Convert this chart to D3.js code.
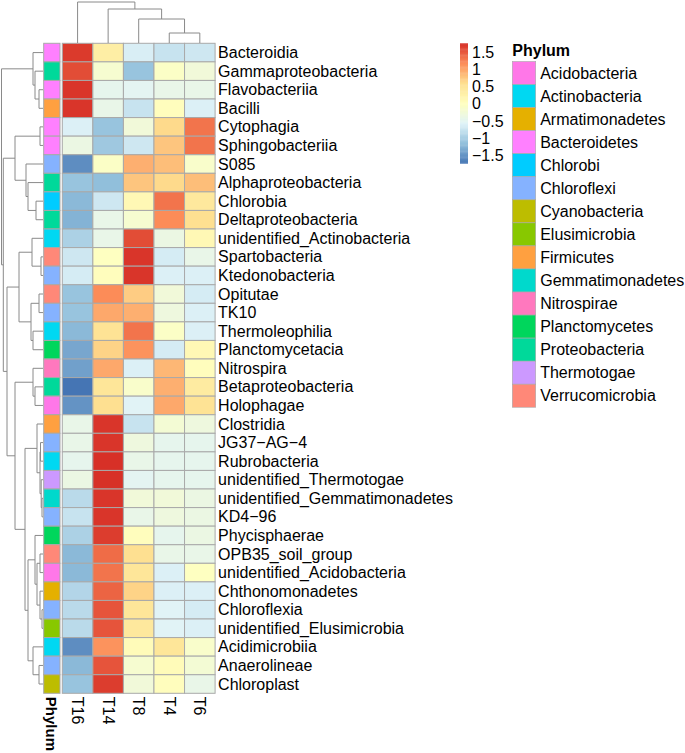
<!DOCTYPE html>
<html>
<head>
<meta charset="utf-8">
<script src="https://cdn.jsdelivr.net/npm/d3@7"></script>
<style>
  html, body { margin: 0; padding: 0; background: #fff; }
  svg { display: block; font-family: "Liberation Sans", Arial, Helvetica, sans-serif; }
</style>
</head>
<body>
<svg id="chart" width="685" height="753"></svg>
<script>
// ---------------- data ----------------
const columns = ["T16", "T14", "T8", "T4", "T6"];

const rows = [
  "Bacteroidia", "Gammaproteobacteria", "Flavobacteriia", "Bacilli", "Cytophagia",
  "Sphingobacteriia", "S085", "Alphaproteobacteria", "Chlorobia", "Deltaproteobacteria",
  "unidentified_Actinobacteria", "Spartobacteria", "Ktedonobacteria", "Opitutae", "TK10",
  "Thermoleophilia", "Planctomycetacia", "Nitrospira", "Betaproteobacteria", "Holophagae",
  "Clostridia", "JG37\u2212AG\u22124", "Rubrobacteria", "unidentified_Thermotogae", "unidentified_Gemmatimonadetes",
  "KD4\u221296", "Phycisphaerae", "OPB35_soil_group", "unidentified_Acidobacteria", "Chthonomonadetes",
  "Chloroflexia", "unidentified_Elusimicrobia", "Acidimicrobiia", "Anaerolineae", "Chloroplast"
];

const rowPhylum = [
  "Bacteroidetes", "Proteobacteria", "Bacteroidetes", "Firmicutes", "Bacteroidetes",
  "Bacteroidetes", "Chloroflexi", "Proteobacteria", "Chlorobi", "Proteobacteria",
  "Actinobacteria", "Verrucomicrobia", "Chloroflexi", "Verrucomicrobia", "Chloroflexi",
  "Actinobacteria", "Planctomycetes", "Nitrospirae", "Proteobacteria", "Acidobacteria",
  "Firmicutes", "Chloroflexi", "Actinobacteria", "Thermotogae", "Gemmatimonadetes",
  "Chloroflexi", "Planctomycetes", "Verrucomicrobia", "Acidobacteria", "Armatimonadetes",
  "Chloroflexi", "Elusimicrobia", "Actinobacteria", "Chloroflexi", "Cyanobacteria"
];

const phyla = [
  "Acidobacteria", "Actinobacteria", "Armatimonadetes", "Bacteroidetes", "Chlorobi",
  "Chloroflexi", "Cyanobacteria", "Elusimicrobia", "Firmicutes", "Gemmatimonadetes",
  "Nitrospirae", "Planctomycetes", "Proteobacteria", "Thermotogae", "Verrucomicrobia"
];
const phylumColors = [
  "#FF77E8", "#00D8F2", "#E5B000", "#FF80FF", "#00CCFF",
  "#85B2FF", "#BDBD00", "#88C800", "#FFA040", "#00D9CC",
  "#FF78BE", "#00D65C", "#00D99A", "#CC99FF", "#FF8878"
];

// row-scaled values (z-scores), one array per sample column
const T16 = [1.72, 1.6, 1.75, 1.75, -0.6, -0.35, -1.55, -1.1, -1.2, -1.25,
  -0.95, -0.7, -0.65, -1.1, -1.1, -1.2, -1.35, -1.4, -1.74, -1.5,
  -0.4, -0.4, -0.45, -0.35, -0.85, -0.75, -0.95, -1.2, -1.2, -0.9,
  -0.85, -0.85, -1.55, -1.2, -1.1];
const T14 = [0.35, -0.15, -0.45, -0.4, -1.1, -1.05, -0.05, -1.15, -0.7, -0.4,
  -0.4, 0.0, 0.05, 1.2, 1.0, 0.55, 0.7, 1.0, 0.5, 0.6,
  1.75, 1.75, 1.78, 1.78, 1.75, 1.75, 1.7, 1.4, 1.35, 1.45,
  1.55, 1.55, 1.15, 1.55, 1.7];
const T8 = [-0.62, -1.1, -0.5, -0.75, -0.25, -0.7, 0.95, 0.8, 0.15, -0.15,
  1.6, 1.75, 1.75, 0.75, 0.95, 1.35, 1.15, -0.6, -0.1, -0.55,
  -0.75, -0.3, -0.4, -0.5, -0.25, -0.4, 0.05, 0.6, 0.5, 0.7,
  0.5, 0.45, 0.1, -0.15, -0.25];
const T4 = [-0.75, -0.05, -0.4, 0.05, 0.65, 0.8, 0.85, 0.65, 1.35, 1.2,
  -0.35, -0.65, -0.6, -0.25, -0.3, -0.05, -0.65, 0.9, 0.95, 1.0,
  -0.2, -0.45, -0.45, -0.45, -0.25, -0.3, -0.45, -0.4, -0.6, -0.6,
  -0.55, -0.55, 0.5, 0.1, 0.05];
const T6 = [-0.7, -0.25, -0.4, -0.6, 1.35, 1.35, -0.1, 0.85, 0.45, 0.6,
  0.15, -0.4, -0.6, -0.65, -0.6, -0.6, 0.15, 0.05, 0.4, 0.55,
  -0.3, -0.45, -0.45, -0.45, -0.35, -0.35, -0.35, -0.4, 0.0, -0.6,
  -0.65, -0.6, -0.1, -0.2, -0.4];
const seriesByColumn = [T16, T14, T8, T4, T6];

// hclust-style merges: negative = leaf -(index+1), positive = earlier merge (1-based)
const rowMergeA = [-3, -2, -1, -5, -9, -8, -7, 4, -12, -11, -14, -16, 11, 10, -19, -18, -22, -25, -24, 17, -21, -28, -31, -30, 22, -27, -34, -33, 26, 21, 16, 14, 8, 3];
const rowMergeB = [-4, 1, 2, -6, -10, 5, 6, 7, -13, 9, -15, -17, 12, 13, -20, 15, -23, -26, 18, 19, 20, -29, -32, 23, 24, 25, -35, 27, 28, 29, 30, 31, 32, 33];
const rowMergeHeight = [4, 8, 10, 3, 7, 15, 17, 28, 2, 11, 4, 10, 12, 24, 8, 10, 2.5, 1, 1.8, 3, 6, 3, 1, 3, 6, 8, 4, 10, 15, 18, 28, 36, 39.7, 41.5];

const colMergeA = [-4, -3, -2, -1];
const colMergeB = [-5, 1, 2, 3];
const colMergeHeight = [10, 24, 34, 41];

const legendTicks = [-1.5, -1, -0.5, 0, 0.5, 1, 1.5];
const paletteStops = ["#4575B4", "#91BFDB", "#E0F3F8", "#FFFFBF", "#FEE090", "#FC8D59", "#D73027"];

// ---------------- layout ----------------
const svg = d3.select("#chart");
const heatLeft = 62.3, heatRight = 215.1, heatTop = 43.3, heatBottom = 693.3;
const annLeft = 43.7, annRight = 60;
const treeLeft = 1.5, treeRight = 43;
const colTreeTop = 2, colTreeBottom = 43;
const FONT = 16;

const x = d3.scaleBand().domain(columns).range([heatLeft, heatRight]);
const y = d3.scaleBand().domain(rows).range([heatTop, heatBottom]);

const allVals = seriesByColumn.flat();
const [vmin, vmax] = d3.extent(allVals);
const color = d3.scaleLinear()
  .domain(paletteStops.map((_, i) => vmin + (vmax - vmin) * i / (paletteStops.length - 1)))
  .range(paletteStops)
  .interpolate(d3.interpolateRgb);

const phylumColor = d3.scaleOrdinal().domain(phyla).range(phylumColors);

const cellStroke = "#a9a9a9";
const treeStroke = "#8a8a8a";

// ---------------- heatmap cells ----------------
const cells = [];
rows.forEach((r, i) => columns.forEach((c, j) => cells.push({ r, c, v: seriesByColumn[j][i] })));
svg.append("g").selectAll("rect").data(cells).join("rect")
  .attr("x", d => x(d.c))
  .attr("y", d => y(d.r))
  .attr("width", x.bandwidth())
  .attr("height", y.bandwidth())
  .attr("fill", d => color(d.v))
  .attr("stroke", cellStroke)
  .attr("stroke-width", 1);

// annotation column
svg.append("g").selectAll("rect").data(rows).join("rect")
  .attr("x", annLeft)
  .attr("y", d => y(d))
  .attr("width", annRight - annLeft)
  .attr("height", y.bandwidth())
  .attr("fill", (d, i) => phylumColor(rowPhylum[i]))
  .attr("stroke", cellStroke)
  .attr("stroke-width", 1);

// row labels
svg.append("g").selectAll("text").data(rows).join("text")
  .attr("x", heatRight + 3)
  .attr("y", d => y(d) + y.bandwidth() / 2)
  .attr("dominant-baseline", "central")
  .attr("font-size", FONT)
  .attr("fill", "#000")
  .text(d => d);

// column labels (rotated)
svg.append("g").selectAll("text").data(columns).join("text")
  .attr("transform", d => `translate(${x(d) + x.bandwidth() / 2},${heatBottom + 3.5}) rotate(90)`)
  .attr("dominant-baseline", "central")
  .attr("font-size", FONT)
  .text(d => d);
svg.append("text")
  .attr("transform", `translate(${(annLeft + annRight) / 2},${heatBottom + 3.5}) rotate(90)`)
  .attr("dominant-baseline", "central")
  .attr("font-size", 15)
  .attr("font-weight", "bold")
  .text("Phylum");

// ---------------- dendrograms ----------------
function buildTree(mergeA, mergeB, heights, leafPos) {
  const nodes = [];
  const get = k => k < 0 ? { pos: leafPos(-k - 1), h: 0 } : nodes[k - 1];
  const segs = [];
  mergeA.forEach((a, i) => {
    const na = get(a), nb = get(mergeB[i]), h = heights[i];
    segs.push({ a: na, b: nb, h });
    nodes.push({ pos: (na.pos + nb.pos) / 2, h });
  });
  return segs;
}

// row tree (horizontal, root on the left)
const rowH = d3.scaleLinear().domain([0, d3.max(rowMergeHeight)]).range([treeRight, treeLeft]);
const rowSegs = buildTree(rowMergeA, rowMergeB, rowMergeHeight, i => y(rows[i]) + y.bandwidth() / 2);
svg.append("g").selectAll("path").data(rowSegs).join("path")
  .attr("d", s => {
    const p = d3.path();
    p.moveTo(rowH(s.a.h), s.a.pos);
    p.lineTo(rowH(s.h), s.a.pos);
    p.lineTo(rowH(s.h), s.b.pos);
    p.lineTo(rowH(s.b.h), s.b.pos);
    return p.toString();
  })
  .attr("fill", "none")
  .attr("stroke", treeStroke)
  .attr("stroke-width", 1);

// column tree (vertical, root on top)
const colH = d3.scaleLinear().domain([0, d3.max(colMergeHeight)]).range([colTreeBottom, colTreeTop]);
const colSegs = buildTree(colMergeA, colMergeB, colMergeHeight, j => x(columns[j]) + x.bandwidth() / 2);
svg.append("g").selectAll("path").data(colSegs).join("path")
  .attr("d", s => {
    const p = d3.path();
    p.moveTo(s.a.pos, colH(s.a.h));
    p.lineTo(s.a.pos, colH(s.h));
    p.lineTo(s.b.pos, colH(s.h));
    p.lineTo(s.b.pos, colH(s.b.h));
    return p.toString();
  })
  .attr("fill", "none")
  .attr("stroke", treeStroke)
  .attr("stroke-width", 1);

// ---------------- colour legend ----------------
const barX = 460, barW = 8, barTop = 43.3, barBottom = 163.3;
const legY = d3.scaleLinear().domain([vmin, vmax]).range([barBottom, barTop]);
const nSteps = 100;
const steps = d3.range(nSteps).map(i => vmin + (vmax - vmin) * i / nSteps);
const stepH = (barBottom - barTop) / nSteps;
svg.append("g").selectAll("rect").data(steps).join("rect")
  .attr("x", barX)
  .attr("y", d => legY(d) - stepH)
  .attr("width", barW)
  .attr("height", stepH + 0.4)
  .attr("fill", d => color(d + (vmax - vmin) / nSteps / 2));
const fmt = d3.format("");
svg.append("g").selectAll("text").data(legendTicks).join("text")
  .attr("x", barX + barW + 4)
  .attr("y", d => legY(d))
  .attr("dominant-baseline", "central")
  .attr("font-size", FONT)
  .text(d => fmt(d));

// ---------------- phylum legend ----------------
const boxX = 512.3, boxW = 23.4, boxTop = 61.5, boxH = 23.05;
const legBand = d3.scaleBand().domain(phyla).range([boxTop, boxTop + boxH * phyla.length]);
svg.append("text")
  .attr("x", boxX)
  .attr("y", boxTop - 11)
  .attr("dominant-baseline", "central")
  .attr("font-size", FONT)
  .attr("font-weight", "bold")
  .text("Phylum");
svg.append("g").selectAll("rect").data(phyla).join("rect")
  .attr("x", boxX)
  .attr("y", d => legBand(d))
  .attr("width", boxW)
  .attr("height", legBand.bandwidth())
  .attr("fill", d => phylumColor(d))
  .attr("stroke", cellStroke)
  .attr("stroke-width", 0.6);
svg.append("g").selectAll("text").data(phyla).join("text")
  .attr("x", boxX + boxW + 4.5)
  .attr("y", d => legBand(d) + legBand.bandwidth() / 2)
  .attr("dominant-baseline", "central")
  .attr("font-size", FONT)
  .text(d => d);
</script>
</body>
</html>
